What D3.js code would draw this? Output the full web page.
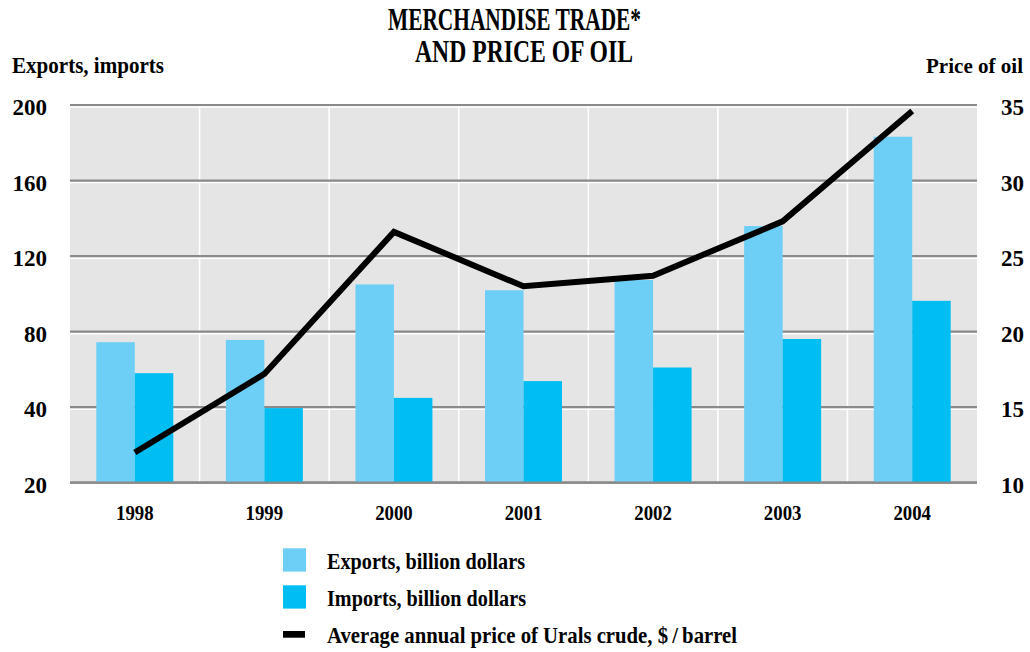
<!DOCTYPE html>
<html>
<head>
<meta charset="utf-8">
<script src="https://cdn.jsdelivr.net/npm/d3@7"></script>
<style>
  html, body { margin: 0; padding: 0; background: #ffffff; }
  svg { display: block; }
  text { font-family: "Liberation Serif", "Times New Roman", serif; font-weight: bold; fill: #000; }
</style>
</head>
<body>
<svg id="chart" width="1030" height="652"></svg>
<script>
// ---- data ----
const years = ["1998", "1999", "2000", "2001", "2002", "2003", "2004"];
const exportsBn = [74.4, 75.6, 105.0, 101.9, 107.3, 135.9, 183.2];
const importsBn = [58.0, 39.5, 44.9, 53.8, 61.0, 76.1, 96.3];
const oilPrice = [12.0, 17.2, 26.6, 23.0, 23.7, 27.3, 34.6];
const seriesNames = ["Exports", "Imports"];
const leftTickValues = [0, 40, 80, 120, 160, 200];
const leftTickLabels = ["20", "40", "80", "120", "160", "200"];
const rightTickValues = [10, 15, 20, 25, 30, 35];
const legendLabels = ["Exports, billion dollars", "Imports, billion dollars", "Average annual price of Urals crude, $\u2009/\u2009barrel"];
const titleLines = ["MERCHANDISE TRADE*", "AND PRICE OF OIL"];
const leftAxisTitle = "Exports, imports";
const rightAxisTitle = "Price of oil";

// ---- layout ----
const svg = d3.select("#chart");
const L = 70, R = 977, T = 105, B = 482.7;
const colors = { Exports: "#6dcff6", Imports: "#00bdf2" };

const x = d3.scaleBand().domain(years).range([L, R]).paddingInner(0).paddingOuter(0);
const xSub = d3.scaleBand().domain(seriesNames).range([0, x.bandwidth()]).paddingInner(0).paddingOuter(0.683);
const y = d3.scaleLinear().domain([0, 200]).range([B, T]);
const y2 = d3.scaleLinear().domain([10, 35]).range([B, T]);

// background
svg.append("rect").attr("x", L).attr("y", T).attr("width", R - L).attr("height", B - T).attr("fill", "#e5e5e5");

// vertical white separators at category boundaries
svg.append("g").selectAll("line").data(years.slice(1)).join("line")
  .attr("x1", d => x(d)).attr("x2", d => x(d))
  .attr("y1", T).attr("y2", B)
  .attr("stroke", "#ffffff").attr("stroke-width", 1.6);

// horizontal gridlines (gray with white highlight below)
const grid = svg.append("g");
grid.selectAll("line.w").data(leftTickValues.filter(v => v > 0)).join("line").attr("class", "w")
  .attr("x1", L).attr("x2", R).attr("y1", d => y(d) + 2).attr("y2", d => y(d) + 2)
  .attr("stroke", "#ffffff").attr("stroke-width", 1.6);
grid.selectAll("line.g").data(leftTickValues).join("line").attr("class", "g")
  .attr("x1", L).attr("x2", R).attr("y1", d => y(d)).attr("y2", d => y(d))
  .attr("stroke", "#8a8a8a").attr("stroke-width", 2.2);

// bars
const rows = years.map((yr, i) => ({ year: yr, Exports: exportsBn[i], Imports: importsBn[i] }));
svg.append("g").selectAll("g").data(rows).join("g")
  .attr("transform", d => `translate(${x(d.year)},0)`)
  .selectAll("rect").data(d => seriesNames.map(k => ({ key: k, value: d[k] }))).join("rect")
  .attr("x", d => xSub(d.key)).attr("width", xSub.bandwidth())
  .attr("y", d => y(d.value)).attr("height", d => y(0) - y(d.value))
  .attr("fill", d => colors[d.key]);

// bottom axis line over bars
svg.append("line").attr("x1", L).attr("x2", R).attr("y1", y(0)).attr("y2", y(0))
  .attr("stroke", "#8a8a8a").attr("stroke-width", 2.2);

// oil price line
const line = d3.line().x((d, i) => x(years[i]) + x.bandwidth() / 2).y(d => y2(d));
svg.append("path").datum(oilPrice).attr("d", line)
  .attr("fill", "none").attr("stroke", "#000").attr("stroke-width", 6)
  .attr("stroke-linejoin", "miter").attr("stroke-linecap", "butt");

// left axis
const axL = svg.append("g").attr("transform", `translate(47,0)`)
  .call(d3.axisLeft(y).tickValues(leftTickValues).tickSize(0).tickPadding(0)
    .tickFormat((d, i) => leftTickLabels[i]));
axL.select(".domain").remove();
axL.selectAll("text").attr("x", 0).attr("dy", null).attr("y", 9.5)
  .attr("text-anchor", "end").style("font-size", "23px").style("font-family", null);

// right axis
const axR = svg.append("g").attr("transform", `translate(1024,0)`)
  .call(d3.axisRight(y2).tickValues(rightTickValues).tickSize(0).tickPadding(0).tickFormat(d3.format("d")));
axR.select(".domain").remove();
axR.selectAll("text").attr("x", 0).attr("dy", null).attr("y", 9.5)
  .attr("text-anchor", "end").style("font-size", "23px").style("font-family", null);

// bottom axis (year labels)
const axB = svg.append("g").attr("transform", `translate(0,${B})`)
  .call(d3.axisBottom(x).tickSize(0).tickPadding(0));
axB.select(".domain").remove();
axB.selectAll("text").attr("y", 37.5).attr("dy", null)
  .style("font-size", "22px").style("font-family", null)
  .attr("textLength", 37.6).attr("lengthAdjust", "spacingAndGlyphs");

// titles
const titleX = [388, 415], titleY = [29.5, 62], titleW = [253, 218];
svg.append("g").selectAll("text").data(titleLines).join("text")
  .attr("x", (d, i) => titleX[i]).attr("y", (d, i) => titleY[i])
  .style("font-size", "32px")
  .attr("textLength", (d, i) => titleW[i]).attr("lengthAdjust", "spacingAndGlyphs")
  .text(d => d);

svg.append("text").attr("x", 12).attr("y", 73).style("font-size", "24px")
  .attr("textLength", 152).attr("lengthAdjust", "spacingAndGlyphs").text(leftAxisTitle);
svg.append("text").attr("x", 926).attr("y", 73).style("font-size", "21.5px")
  .attr("textLength", 97).attr("lengthAdjust", "spacingAndGlyphs").text(rightAxisTitle);

// legend
const legY = [569, 606, 643], legW = [198, 199, 410];
const leg = svg.append("g").selectAll("g").data(legendLabels).join("g");
leg.each(function(d, i) {
  const g = d3.select(this);
  if (i < 2) {
    g.append("rect").attr("x", 283).attr("y", legY[i] - 20.7).attr("width", 23).attr("height", 23.3)
      .attr("fill", colors[seriesNames[i]]);
  } else {
    g.append("rect").attr("x", 283).attr("y", legY[i] - 12).attr("width", 22).attr("height", 6.7)
      .attr("fill", "#000");
  }
  g.append("text").attr("x", 327).attr("y", legY[i]).style("font-size", "23px")
    .attr("textLength", legW[i]).attr("lengthAdjust", "spacingAndGlyphs").text(d);
});
</script>
</body>
</html>
